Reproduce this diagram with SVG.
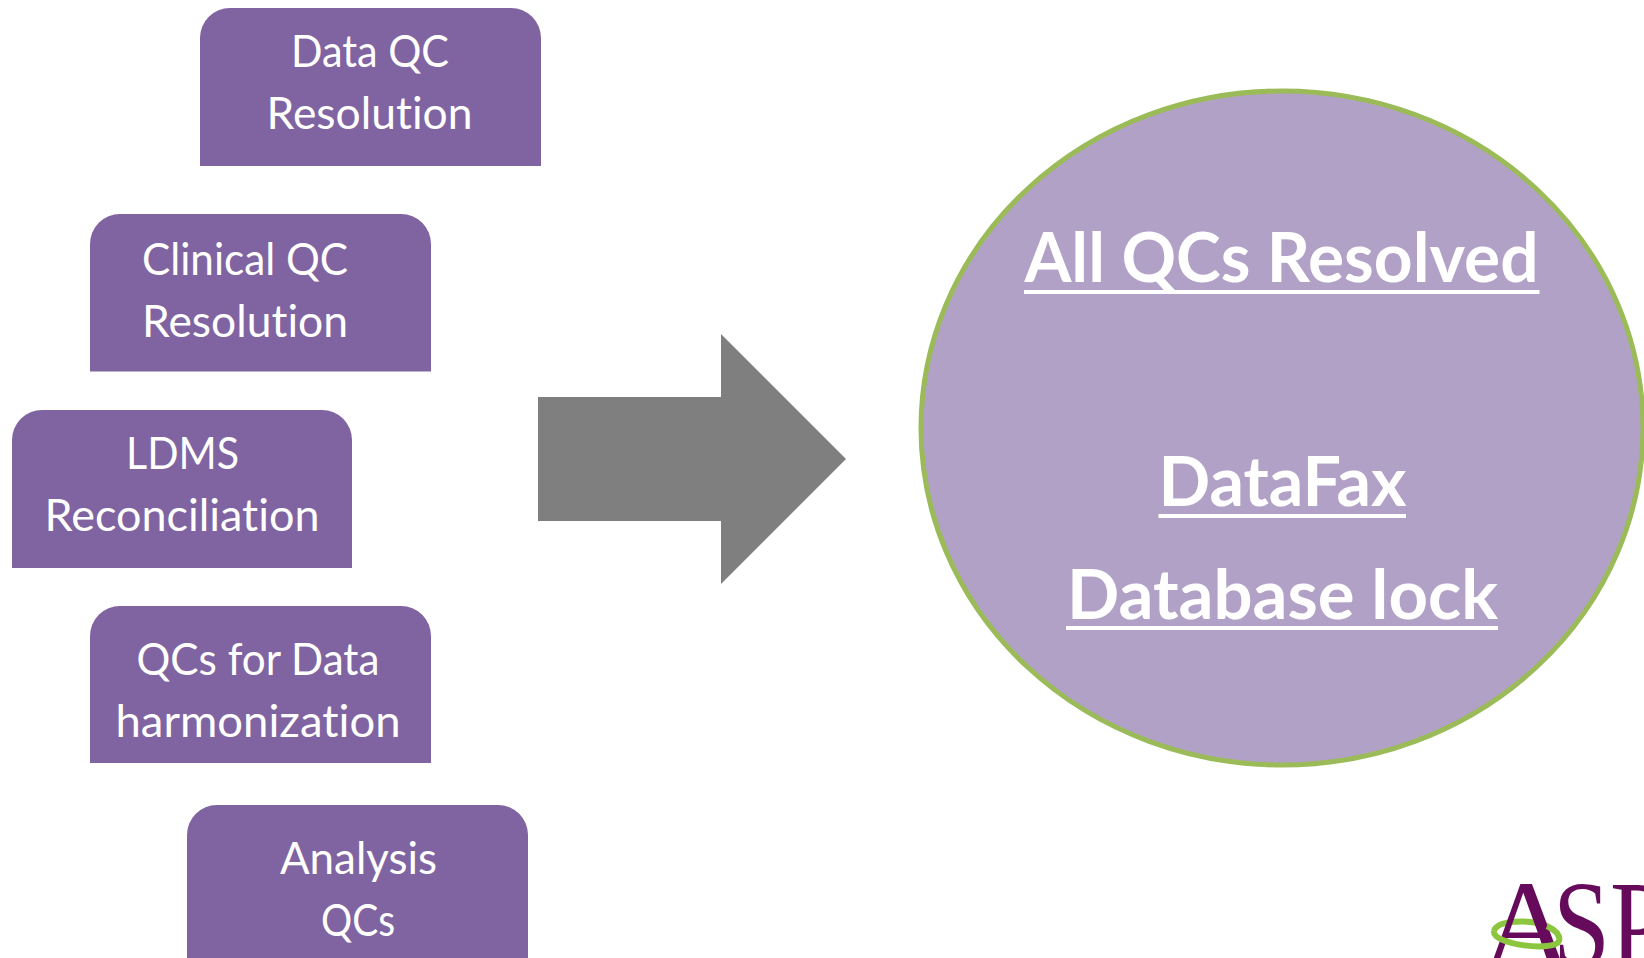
<svg xmlns="http://www.w3.org/2000/svg" width="1644" height="958" viewBox="0 0 1644 958">
<style>
.box{fill:#8064A2}
.t{font-family:"Lato","Carlito","Open Sans",sans-serif;font-size:44px;fill:#fff;text-anchor:middle;font-variant-ligatures:none}
.b{font-family:"Lato","Carlito","Open Sans",sans-serif;font-size:68px;font-weight:700;fill:#fff;text-anchor:middle;font-variant-ligatures:none}
.u{fill:#fff}
.logo{font-family:"Liberation Serif",serif;font-size:125px;fill:#660A5C}
.ring{fill:none;stroke:#8CC63F;stroke-width:6}
</style>
<rect width="1644" height="958" fill="#fff"/>
<g id="node-data-qc"><path class="box" d="M200 166V38a30 30 0 0 1 30-30H511a30 30 0 0 1 30 30V166Z"/>
<text class="t" x="370" y="67" textLength="158" lengthAdjust="spacingAndGlyphs">Data QC</text>
<text class="t" x="369.500" y="129" textLength="206" lengthAdjust="spacingAndGlyphs">Resolution</text></g>
<g id="node-clinical-qc"><path class="box" d="M90 371.500V244a30 30 0 0 1 30-30H401a30 30 0 0 1 30 30V371.500Z"/>
<text class="t" x="245" y="275" textLength="206" lengthAdjust="spacingAndGlyphs">Clinical QC</text>
<text class="t" x="245" y="337" textLength="206" lengthAdjust="spacingAndGlyphs">Resolution</text></g>
<g id="node-ldms"><path class="box" d="M12 568V440a30 30 0 0 1 30-30H322a30 30 0 0 1 30 30V568Z"/>
<text class="t" x="182.500" y="469" textLength="113" lengthAdjust="spacingAndGlyphs">LDMS</text>
<text class="t" x="182" y="531" textLength="275" lengthAdjust="spacingAndGlyphs">Reconciliation</text></g>
<g id="node-harmonization"><path class="box" d="M90 763V636a30 30 0 0 1 30-30H401a30 30 0 0 1 30 30V763Z"/>
<text class="t" x="258" y="675" textLength="243" lengthAdjust="spacingAndGlyphs">QCs for Data</text>
<text class="t" x="258" y="737" textLength="285" lengthAdjust="spacingAndGlyphs">harmonization</text></g>
<g id="node-analysis"><path class="box" d="M187 958V835a30 30 0 0 1 30-30H498a30 30 0 0 1 30 30V958Z"/>
<text class="t" x="358.500" y="874" textLength="157" lengthAdjust="spacingAndGlyphs">Analysis</text>
<text class="t" x="358" y="936" textLength="74" lengthAdjust="spacingAndGlyphs">QCs</text></g>
<g id="connectors"><polygon fill="#7F7F7F" points="538,397 721,397 721,334 846,459 721,584 721,521 538,521"/></g>
<g id="node-result"><ellipse cx="1282" cy="428" rx="361" ry="337" fill="#B2A1C7" stroke="#9BBB59" stroke-width="5"/>
<text class="b" x="1281.500" y="282" textLength="514" lengthAdjust="spacingAndGlyphs">All QCs Resolved</text>
<rect class="u" x="1024" y="290" width="515.500" height="4"/>
<text class="b" x="1282.500" y="506" textLength="248" lengthAdjust="spacingAndGlyphs">DataFax</text>
<rect class="u" x="1158.500" y="514" width="247.500" height="4"/>
<text class="b" x="1282.500" y="619" textLength="431" lengthAdjust="spacingAndGlyphs">Database lock</text>
<rect class="u" x="1066" y="626" width="432" height="4"/></g>
<g id="logo"><path class="ring" d="M1494 931C1497 920 1530 919 1547 926"/>
<text class="logo" x="1482" y="967">A<tspan x="1553" textLength="114" lengthAdjust="spacingAndGlyphs">SP</tspan></text>
<path class="ring" d="M1494 931C1492 945 1555 952 1559 941C1561 934 1553 929 1547 926"/></g>
</svg>
